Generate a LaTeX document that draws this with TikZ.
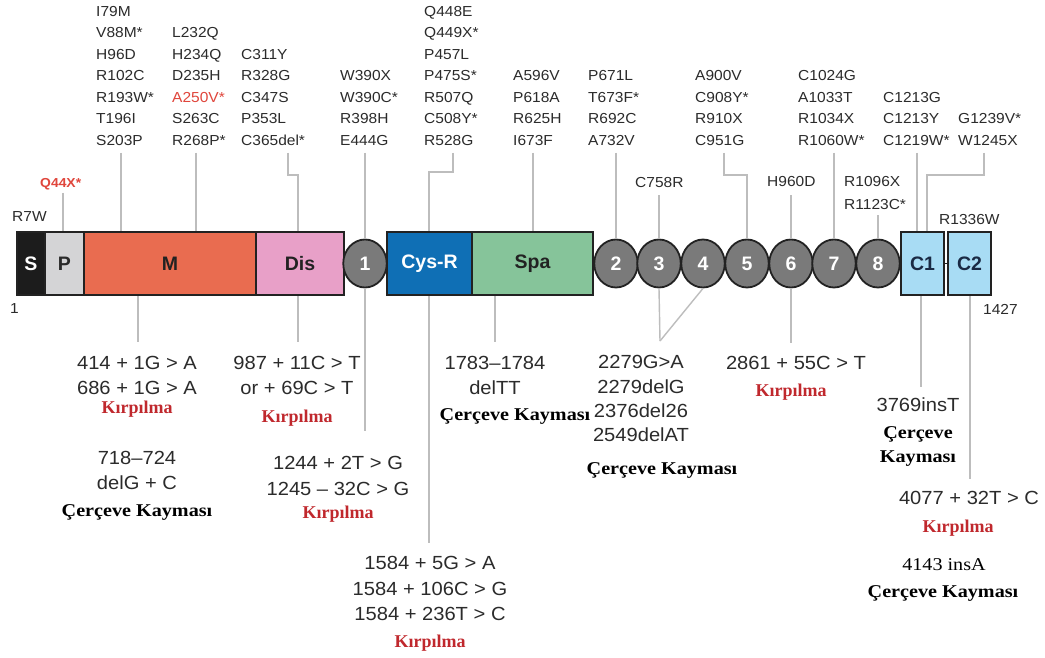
\documentclass[tikz,border=0pt]{standalone}
\usepackage{fontspec}
\setmainfont{Liberation Sans}
\newfontfamily\serifb{Liberation Serif}
\newfontfamily\serifw[FakeStretch=1.12]{Liberation Serif}
\newfontfamily\topfont[FakeStretch=1.07]{Liberation Sans}
\newfontfamily\botfont[FakeStretch=1.06]{Liberation Sans}
\usetikzlibrary{shapes.geometric}
\definecolor{txt}{HTML}{2B2B2B}
\definecolor{leadgray}{HTML}{BDBDBD}
\definecolor{kred}{HTML}{C0282D}
\definecolor{lred}{HTML}{E0463C}
\definecolor{outline}{HTML}{222222}
\definecolor{cS}{HTML}{1C1C1C}
\definecolor{cP}{HTML}{D4D4D6}
\definecolor{cM}{HTML}{E96C50}
\definecolor{cDis}{HTML}{E8A0C8}
\definecolor{cCirc}{HTML}{7A7A7A}
\definecolor{cCys}{HTML}{0F6FB5}
\definecolor{cSpa}{HTML}{86C49A}
\definecolor{cC}{HTML}{A8DCF4}
\definecolor{navy}{HTML}{1A2A44}
\begin{document}
\begin{tikzpicture}[x=1pt,y=-1pt,
  top/.style={font=\topfont\fontsize{14.5}{14.5}\selectfont, text=txt, inner sep=0pt, anchor=base west},
  bot/.style={font=\botfont\fontsize{19}{19}\selectfont, text=txt, inner sep=0pt, anchor=base},
  kirp/.style={font=\serifb\bfseries\fontsize{18}{18}\selectfont, text=kred, inner sep=0pt, anchor=base},
  cerc/.style={font=\serifw\bfseries\fontsize{18}{18}\selectfont, text=black, inner sep=0pt, anchor=base},
  leader/.style={draw=leadgray, line width=1.4pt},
  dom/.style={draw=outline, line width=2pt, minimum height=63pt, inner sep=0pt, font=\bfseries\fontsize{19.5}{19.5}\selectfont},
  circ/.style={ellipse, draw=outline, line width=1.8pt, fill=cCirc, minimum width=43.5pt, minimum height=48pt, inner sep=0pt, text=white, font=\bfseries\fontsize{19.5}{19.5}\selectfont}
]
\useasboundingbox (0,0) rectangle (1045,658);
\fill[white] (0,0) rectangle (1045,658);

% ---------- top mutation columns ----------
\foreach \t [count=\i from 0] in {I79M,V88M*,H96D,R102C,R193W*,T196I,S203P}
  \node[top] (a\i) at (96,{16.5+21.5*\i}) {\t};
\foreach \t [count=\i from 1] in {L232Q,H234Q,D235H,\textcolor{lred}{A250V*},S263C,R268P*}
  \node[top] (b\i) at (172,{16.5+21.5*\i}) {\t};
\foreach \t [count=\i from 2] in {C311Y,R328G,C347S,P353L,C365del*}
  \node[top] (c\i) at (241,{16.5+21.5*\i}) {\t};
\foreach \t [count=\i from 3] in {W390X,W390C*,R398H,E444G}
  \node[top] (d\i) at (340,{16.5+21.5*\i}) {\t};
\foreach \t [count=\i from 0] in {Q448E,Q449X*,P457L,P475S*,R507Q,C508Y*,R528G}
  \node[top] (e\i) at (424,{16.5+21.5*\i}) {\t};
\foreach \t [count=\i from 3] in {A596V,P618A,R625H,I673F}
  \node[top] (f\i) at (513,{16.5+21.5*\i}) {\t};
\foreach \t [count=\i from 3] in {P671L,T673F*,R692C,A732V}
  \node[top] (g\i) at (588,{16.5+21.5*\i}) {\t};
\foreach \t [count=\i from 3] in {A900V,C908Y*,R910X,C951G}
  \node[top] (h\i) at (695,{16.5+21.5*\i}) {\t};
\foreach \t [count=\i from 3] in {C1024G,A1033T,R1034X,R1060W*}
  \node[top] (i\i) at (798,{16.5+21.5*\i}) {\t};
\foreach \t [count=\i from 4] in {C1213G,C1213Y,C1219W*}
  \node[top] (j\i) at (883,{16.5+21.5*\i}) {\t};
\foreach \t [count=\i from 5] in {G1239V*,W1245X}
  \node[top] (k\i) at (958,{16.5+21.5*\i}) {\t};

\node[top, text=lred, font=\topfont\bfseries\fontsize{13}{13}\selectfont] (q44) at (40,188) {Q44X*};
\node[top] (r7w) at (12,222) {R7W};
\node[top] (c758) at (635,188) {C758R};
\node[top] (h960) at (767,187) {H960D};
\node[top] (r1096) at (844,187) {R1096X};
\node[top] (r1123) at (844,209) {R1123C*};
\node[top] (r1336) at (939,225) {R1336W};
\node[top] (one) at (10,313) {1};
\node[top] (n1427) at (983,314) {1427};

% ---------- leader coordinates ----------
\coordinate (ta) at (121,153);
\coordinate (tb) at (196,153);
\coordinate (tc) at (288,153); \coordinate (tc2) at (298,175);
\coordinate (td) at (365,153);
\coordinate (te) at (453,153); \coordinate (te2) at (429,172);
\coordinate (tf) at (533,153);
\coordinate (tg) at (616,153);
\coordinate (th) at (724,153); \coordinate (th2) at (747,175);
\coordinate (ti) at (834,153);
\coordinate (tj) at (917,153);
\coordinate (tk) at (984,153); \coordinate (tk2) at (927,175);
\coordinate (tq) at (63,193);

% ---------- domain bar ----------
\path
  (16,263.5) node[dom, fill=cS, minimum width=28pt, anchor=west, text=white] (S) {S}
  (44,263.5) node[dom, fill=cP, minimum width=39pt, anchor=west, text=txt] (P) {P}
  (83,263.5) node[dom, fill=cM, minimum width=172pt, anchor=west, text=outline] (M) {M}
  (255,263.5) node[dom, fill=cDis, minimum width=88pt, anchor=west, text=outline] (Dis) {Dis}
  (386,263.5) node[dom, fill=cCys, minimum width=85pt, anchor=west, text=white] (CysR) {Cys-R}
  (471,263.5) node[dom, fill=cSpa, minimum width=121pt, anchor=west, text=outline] (Spa) {Spa}
  (900,263.5) node[dom, fill=cC, minimum width=43pt, anchor=west, text=navy] (CA) {C1}
  (947,263.5) node[dom, fill=cC, minimum width=43pt, anchor=west, text=navy] (CB) {C2};
\node[circ] (K1) at (365,263.5) {1};
\foreach \n/\x in {2/616,3/659,4/703,5/747,6/791,7/834,8/878}
  \node[circ] (K\n) at (\x,263.5) {\n};
\draw[outline, line width=1.5pt] (CA.east) -- (CB.west);

% ---------- top leaders ----------
\draw[leader] (tq) -- (tq |- P.north);
\draw[leader] (ta) -- (ta |- M.north);
\draw[leader] (tb) -- (tb |- M.north);
\draw[leader] (tc) |- (tc2) -- (tc2 |- Dis.north);
\draw[leader] (td) -- (K1.north);
\draw[leader] (te) |- (te2) -- (te2 |- CysR.north);
\draw[leader] (tf) -- (tf |- Spa.north);
\draw[leader] (tg) -- (K2.north);
\draw[leader] ([yshift=-7pt]c758.south -| K3.north) -- (K3.north);
\draw[leader] (th) |- (th2) -- (K5.north);
\draw[leader] ([yshift=-8pt]h960.south -| K6.north) -- (K6.north);
\draw[leader] (ti) -- (K7.north);
\draw[leader] ([yshift=-6pt]r1123.south -| K8.north) -- (K8.north);
\draw[leader] (tj) -- (tj |- CA.north);
\draw[leader] (tk) |- (tk2) -- (tk2 |- CA.north);

% ---------- bottom leaders ----------
\coordinate (ba) at (138,342);
\coordinate (bb) at (298,342);
\coordinate (bc) at (365,431);
\coordinate (bd) at (429,543);
\coordinate (be) at (495,342);
\coordinate (bf) at (660,341);
\coordinate (bg) at (791,343);
\coordinate (bh) at (921,387);
\coordinate (bi) at (970,479);
\draw[leader] (ba |- M.south) -- (ba);
\draw[leader] (bb |- Dis.south) -- (bb);
\draw[leader] (K1.south) -- (bc);
\draw[leader] (bd |- CysR.south) -- (bd);
\draw[leader] (be |- Spa.south) -- (be);
\draw[leader] (K3.south) -- (bf);
\draw[leader] (K4.south) -- (bf);
\draw[leader] (K6.south) -- (bg);
\draw[leader] (bh |- CA.south) -- (bh);
\draw[leader] (bi |- CB.south) -- (bi);

% ---------- bottom texts ----------
\node[bot] (a1t) at (137,369) {414 + 1G > A};
\node[bot] (a2t) at (137,394) {686 + 1G > A};
\node[kirp] (a3t) at (137,413) {Kırpılma};
\node[bot] (a4t) at (137,464) {718–724};
\node[bot] (a5t) at (137,489) {delG + C};
\node[cerc] (a6t) at (137,516) {Çerçeve Kayması};

\node[bot] (b1t) at (297,369) {987 + 11C > T};
\node[bot] (b2t) at (297,394) {or + 69C > T};
\node[kirp] (b3t) at (297,422) {Kırpılma};

\node[bot] (c1t) at (338,469) {1244 + 2T > G};
\node[bot] (c2t) at (338,495) {1245 – 32C > G};
\node[kirp] (c3t) at (338,518) {Kırpılma};

\node[bot] (d1t) at (430,569) {1584 + 5G > A};
\node[bot] (d2t) at (430,595) {1584 + 106C > G};
\node[bot] (d3t) at (430,620) {1584 + 236T > C};
\node[kirp] (d4t) at (430,647) {Kırpılma};

\node[bot] (e1t) at (495,369) {1783–1784};
\node[bot] (e2t) at (495,394) {delTT};
\node[cerc] (e3t) at (515,420) {Çerçeve Kayması};

\node[bot] (f1t) at (641,368) {2279G>A};
\node[bot] (f2t) at (641,393) {2279delG};
\node[bot] (f3t) at (641,417) {2376del26};
\node[bot] (f4t) at (641,441) {2549delAT};
\node[cerc] (f5t) at (662,474) {Çerçeve Kayması};

\node[bot] (g1t) at (796,369) {2861 + 55C > T};
\node[kirp] (g2t) at (791,396) {Kırpılma};

\node[bot] (h1t) at (918,411) {3769insT};
\node[cerc] (h2t) at (918,438) {Çerçeve};
\node[cerc] (h3t) at (918,462) {Kayması};

\node[bot] (i1t) at (969,504) {4077 + 32T > C};
\node[kirp] (i2t) at (958,532) {Kırpılma};
\node[bot, font=\serifw\fontsize{18}{18}\selectfont, text=black] (i3t) at (944,570) {4143 insA};
\node[cerc] (i4t) at (943,597) {Çerçeve Kayması};
\end{tikzpicture}
\end{document}
